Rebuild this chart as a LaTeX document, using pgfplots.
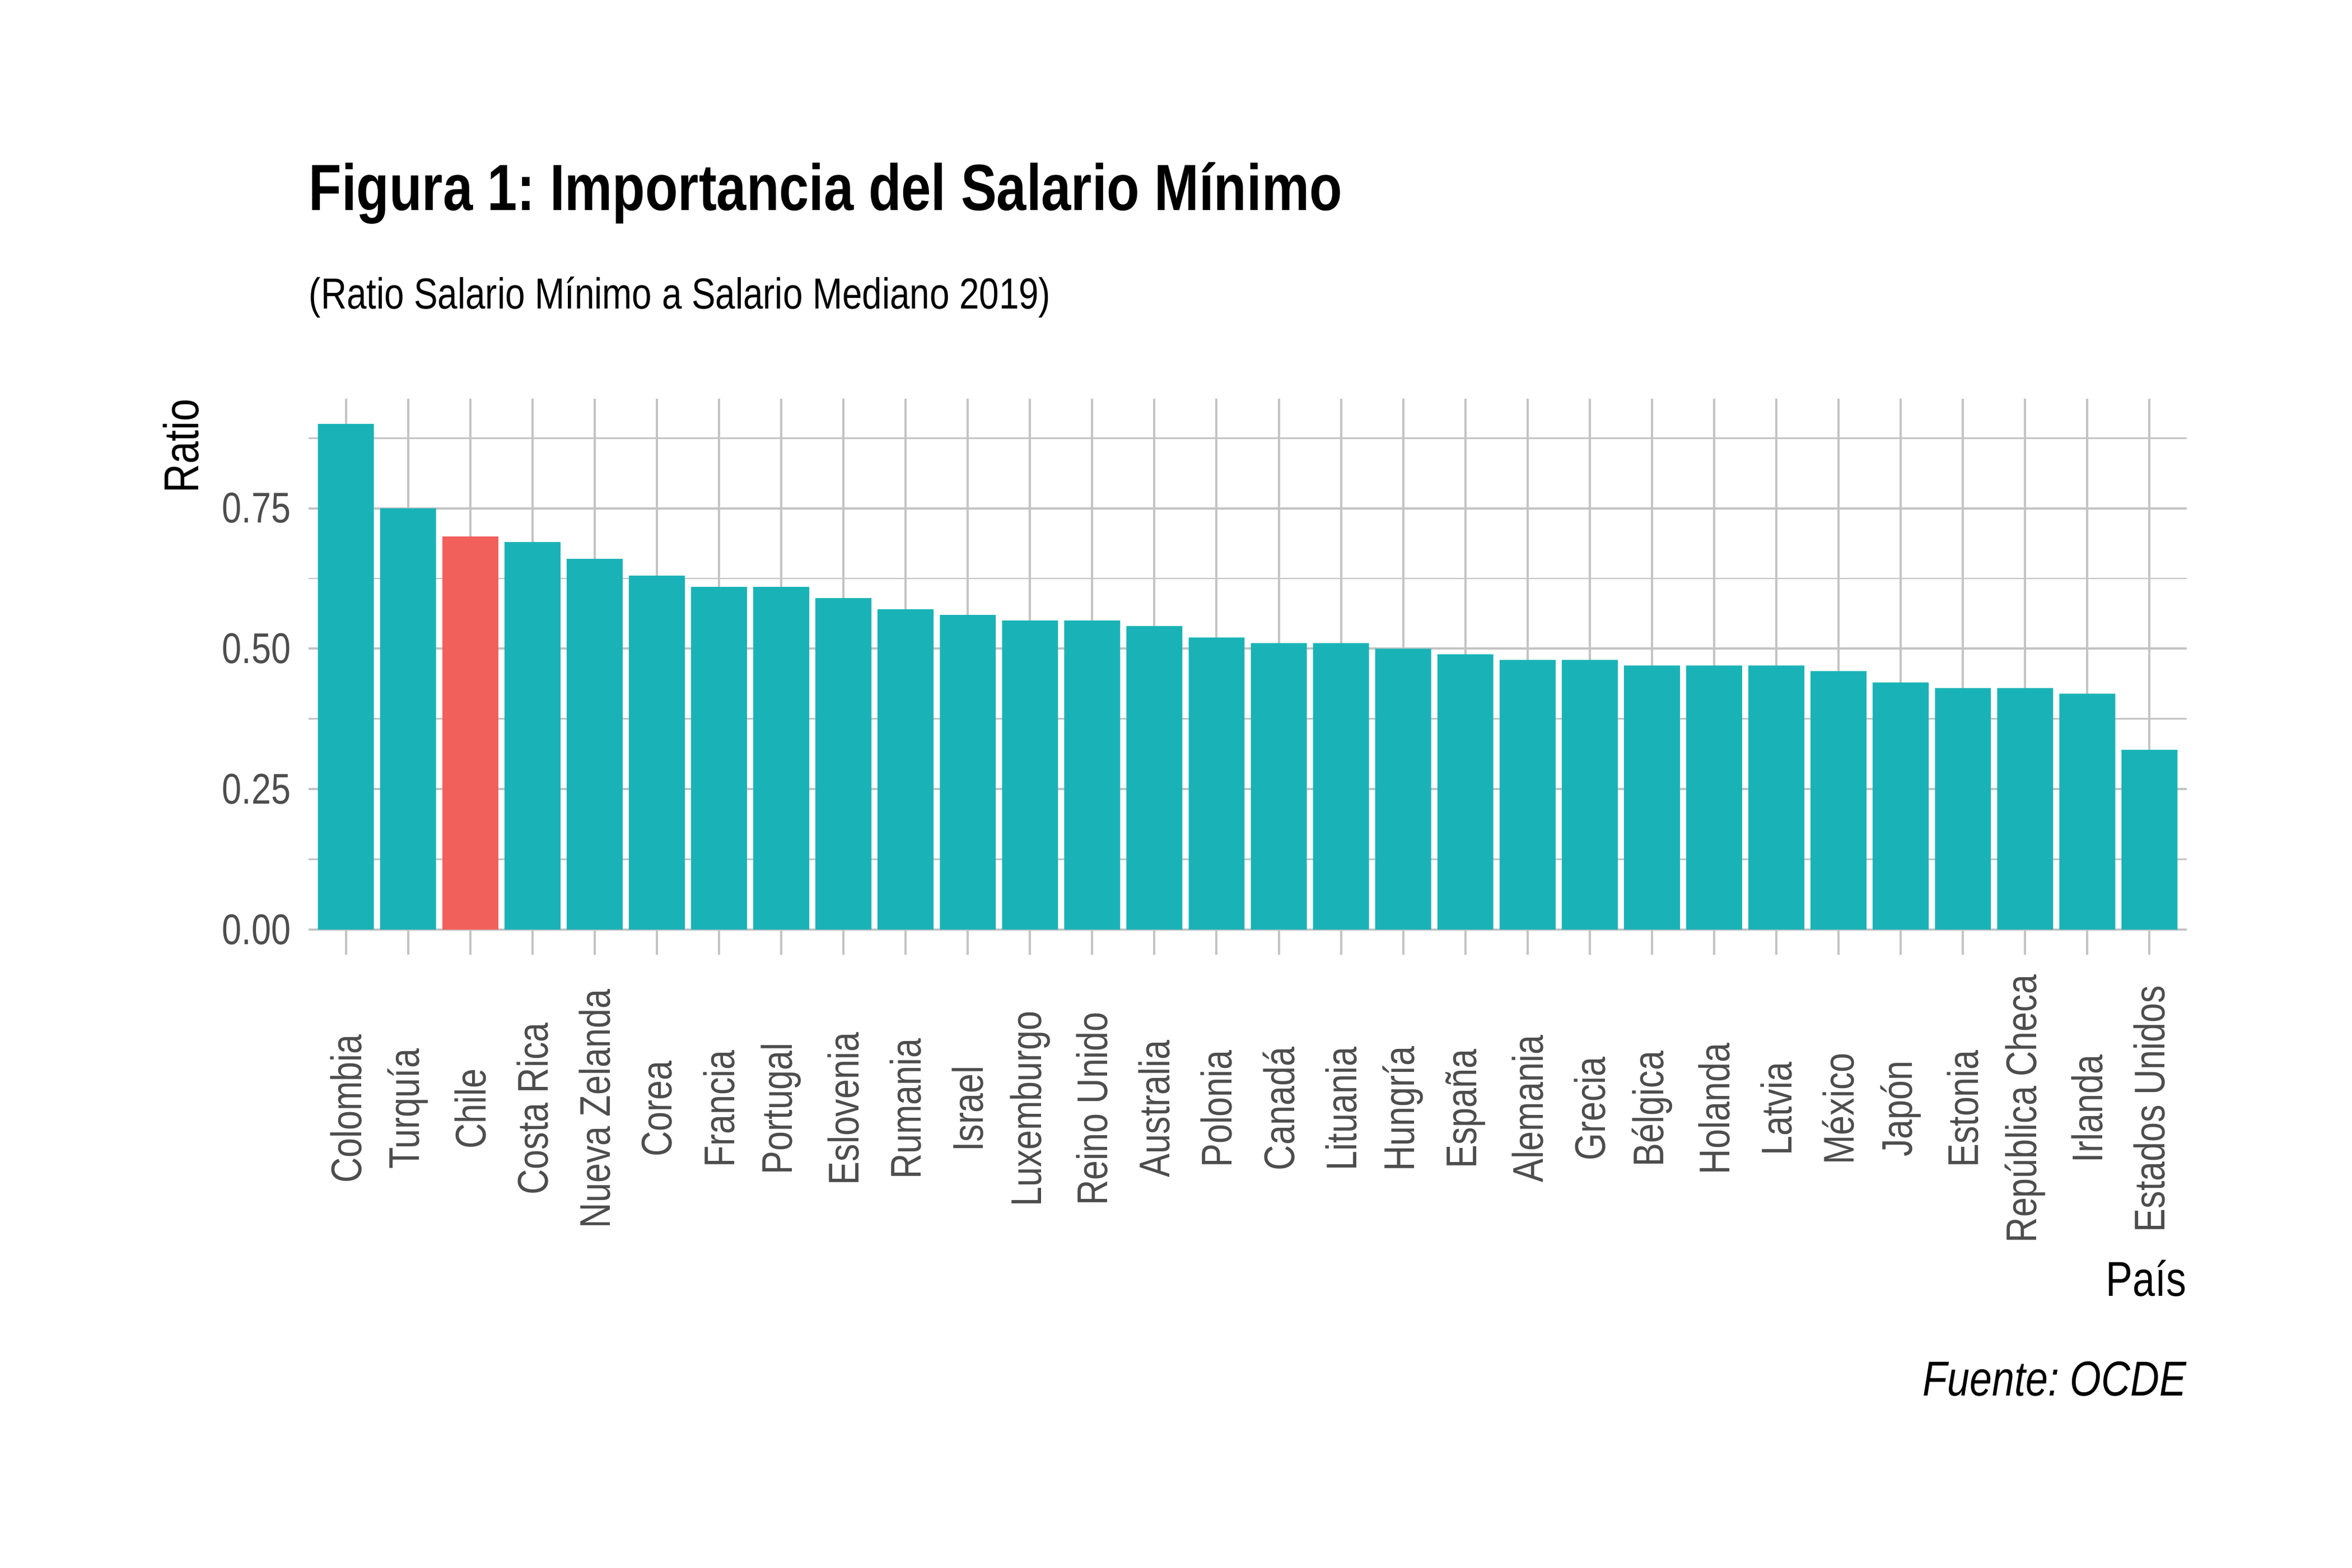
\documentclass[border=0pt]{standalone}
\usepackage{fontspec}
\setmainfont{Liberation Sans}[FakeStretch=0.82]
\usepackage{pgfplots}
\pgfplotsset{compat=1.18}
\definecolor{teal1}{RGB}{25,179,183}
\definecolor{red1}{RGB}{242,96,91}
\definecolor{gridc}{RGB}{196,196,196}
\definecolor{tickc}{RGB}{77,77,77}
\frenchspacing
\begin{document}
\begin{tikzpicture}
\path[use as bounding box] (0,0) rectangle (1008bp,672bp);
\begin{axis}[
  at={(132.24bp,262.8bp)}, anchor=south west,
  width=804.96bp, height=238.32bp, scale only axis,
  xmin=0.4, xmax=30.6, ymin=-0.045, ymax=0.945,
  axis line style={draw=none},
  major tick length=0pt, minor tick length=0pt,
  tick style={draw=none},
  xtick={1,...,30},
  xticklabels={Colombia,Turquía,Chile,Costa Rica,Nueva Zelanda,Corea,Francia,Portugal,Eslovenia,Rumania,Israel,Luxemburgo,Reino Unido,Australia,Polonia,Canadá,Lituania,Hungría,España,Alemania,Grecia,Bélgica,Holanda,Latvia,México,Japón,Estonia,República Checa,Irlanda,Estados Unidos},
  ytick={0,0.25,0.5,0.75},
  yticklabels={0.00,0.25,0.50,0.75},
  minor ytick={0.125,0.375,0.625,0.875},
  xmajorgrids, ymajorgrids, yminorgrids,
  major grid style={draw=gridc, line width=0.96bp},
  minor grid style={draw=gridc, line width=0.7bp},
  x tick label style={font=\fontsize{18.4bp}{22bp}\selectfont, text=tickc, yshift=-66bp, rotate=90, anchor=center, inner sep=0pt},
  y tick label style={font=\fontsize{18.4bp}{22bp}\selectfont, text=tickc, anchor=east, inner sep=0pt, xshift=-7.44bp},
  ybar, bar width=0.9, bar shift=0pt,
]
\addplot[fill=teal1, draw=none] coordinates {
(1,0.90) (2,0.75) (4,0.69) (5,0.66) (6,0.63) (7,0.61) (8,0.61) (9,0.59) (10,0.57)
(11,0.56) (12,0.55) (13,0.55) (14,0.54) (15,0.52) (16,0.51) (17,0.51) (18,0.50)
(19,0.49) (20,0.48) (21,0.48) (22,0.47) (23,0.47) (24,0.47) (25,0.46) (26,0.44)
(27,0.43) (28,0.43) (29,0.42) (30,0.32)};
\addplot[fill=red1, draw=none] coordinates {(3,0.70)};
\end{axis}
\node[anchor=base west, inner sep=0pt, font=\bfseries\fontsize{28bp}{34bp}\selectfont] at (132.24bp,581.76bp) {Figura 1: Importancia del Salario Mínimo};
\node[anchor=base west, inner sep=0pt, font=\fontsize{18.65bp}{22bp}\selectfont] at (132.24bp,539.52bp) {(Ratio Salario Mínimo a Salario Mediano 2019)};
\node[rotate=90, anchor=base east, inner sep=0pt, font=\fontsize{21bp}{25bp}\selectfont] at (84.96bp,501.12bp) {Ratio};
\node[anchor=base east, inner sep=0pt, font=\fontsize{21bp}{25bp}\selectfont] at (937.2bp,116.4bp) {País};
\node[anchor=base east, inner sep=0pt, font=\itshape\fontsize{21bp}{25bp}\selectfont] at (937.2bp,73.68bp) {Fuente: OCDE};
\end{tikzpicture}
\end{document}
